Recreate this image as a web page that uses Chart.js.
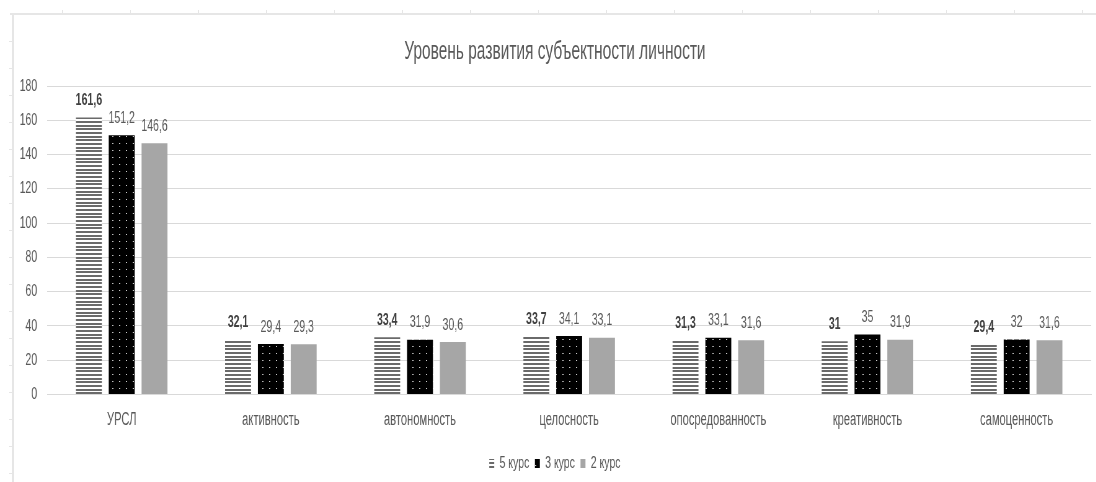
<!DOCTYPE html>
<html><head><meta charset="utf-8">
<script src="https://cdn.jsdelivr.net/npm/chart.js@4.4.1/dist/chart.umd.min.js"></script>
<style>
html,body{margin:0;padding:0;background:#fff;width:1096px;height:482px;overflow:hidden;}
#wrap{position:absolute;left:0;top:0;width:1768px;height:482px;transform:scaleX(0.62);transform-origin:0 0;}
#frame{position:absolute;left:0;top:0;width:1096px;height:482px;pointer-events:none;}
.ln{position:absolute;background:#e6e6e6;}
</style></head><body>
<div id="frame"></div>
<div id="wrap"><canvas id="c" width="1768" height="482" style="width:1768px;height:482px"></canvas></div>
<script>
const categories = ['УРСЛ','активность','автономность','целосность','опосредованность','креативность','самоценность'];
const seriesNames = ['5 курс','3 курс','2 курс'];
const course5 = [161.6, 32.1, 33.4, 33.7, 31.3, 31, 29.4];
const course3 = [151.2, 29.4, 31.9, 34.1, 33.1, 35, 32];
const course2 = [146.6, 29.3, 30.6, 33.1, 31.6, 31.9, 31.6];
const yMin = 0, yMax = 180, yStep = 20;
const titleText = 'Уровень развития субъектности личности';

// worksheet frame decoration
const frame = document.getElementById('frame');
function ln(l,t,w,h){const d=document.createElement('div');d.className='ln';d.style.cssText=`left:${l}px;top:${t}px;width:${w}px;height:${h}px`;frame.appendChild(d);}
ln(10,13,1086,2); ln(12,13,2,469);
for(let x=62;x<1096;x+=68) ln(x,10,1,4);
for(let y=41;y<482;y+=27) ln(9,y,4,1);

function stripes(){
  const c=document.createElement('canvas');c.width=4;c.height=11;const g=c.getContext('2d');
  g.fillStyle='#ffffff';g.fillRect(0,0,4,11);g.fillStyle='#6a6a6a';
  [[0,2],[4,2],[7,2]].forEach(([y,h])=>g.fillRect(0,y,4,h));
  return g.createPattern(c,'repeat');
}
function dots(){
  const c=document.createElement('canvas');c.width=11;c.height=7;const g=c.getContext('2d');
  g.fillStyle='#000000';g.fillRect(0,0,11,7);g.fillStyle='#c8c8c8';g.fillRect(5,3,2,1);
  return g.createPattern(c,'repeat');
}
const FONT='"Liberation Sans", Arial, sans-serif';
Chart.defaults.font.family=FONT;
Chart.defaults.color='#595959';

const valueLabels={
  id:'valueLabels',
  afterDatasetsDraw(chart){
    const ctx=chart.ctx;
    chart.data.datasets.forEach((ds,i)=>{
      const meta=chart.getDatasetMeta(i);
      meta.data.forEach((bar,j)=>{
        ctx.save();
        ctx.font=(i===0?'bold ':'')+'17px '+FONT;
        ctx.fillStyle=i===0?'#404040':'#595959';
        ctx.textAlign='center';ctx.textBaseline='middle';
        ctx.fillText(String(ds.data[j]).replace('.',','),bar.x,bar.y-17);
        ctx.restore();
      });
    });
  }
};

new Chart(document.getElementById('c'),{
  type:'bar',
  data:{labels:categories,datasets:[
    {label:seriesNames[0],data:course5,backgroundColor:stripes(),borderWidth:0},
    {label:seriesNames[1],data:course3,backgroundColor:dots(),borderWidth:0},
    {label:seriesNames[2],data:course2,backgroundColor:'#a6a6a6',borderWidth:0}
  ]},
  plugins:[valueLabels],
  options:{
    responsive:false,animation:false,
    datasets:{bar:{categoryPercentage:0.66,barPercentage:0.79}},
    layout:{padding:{left:30,right:8,top:0,bottom:0}},
    plugins:{
      title:{display:true,text:titleText,color:'#595959',font:{size:25,weight:'normal'},padding:{top:37,bottom:19}},
      legend:{position:'bottom',labels:{boxWidth:8,boxHeight:9,font:{size:17},color:'#595959',padding:9}},
      tooltip:{enabled:false}
    },
    scales:{
      x:{grid:{display:false,drawTicks:false},border:{display:true,color:'#d9d9d9'},ticks:{font:{size:18},color:'#595959',padding:15}},
      y:{min:yMin,max:yMax,ticks:{stepSize:yStep,font:{size:17},color:'#595959',padding:16},
         grid:{color:'#d9d9d9',drawTicks:false},border:{display:false},
         afterFit(s){s.width=46;}}
    }
  }
});
</script>
</body></html>
